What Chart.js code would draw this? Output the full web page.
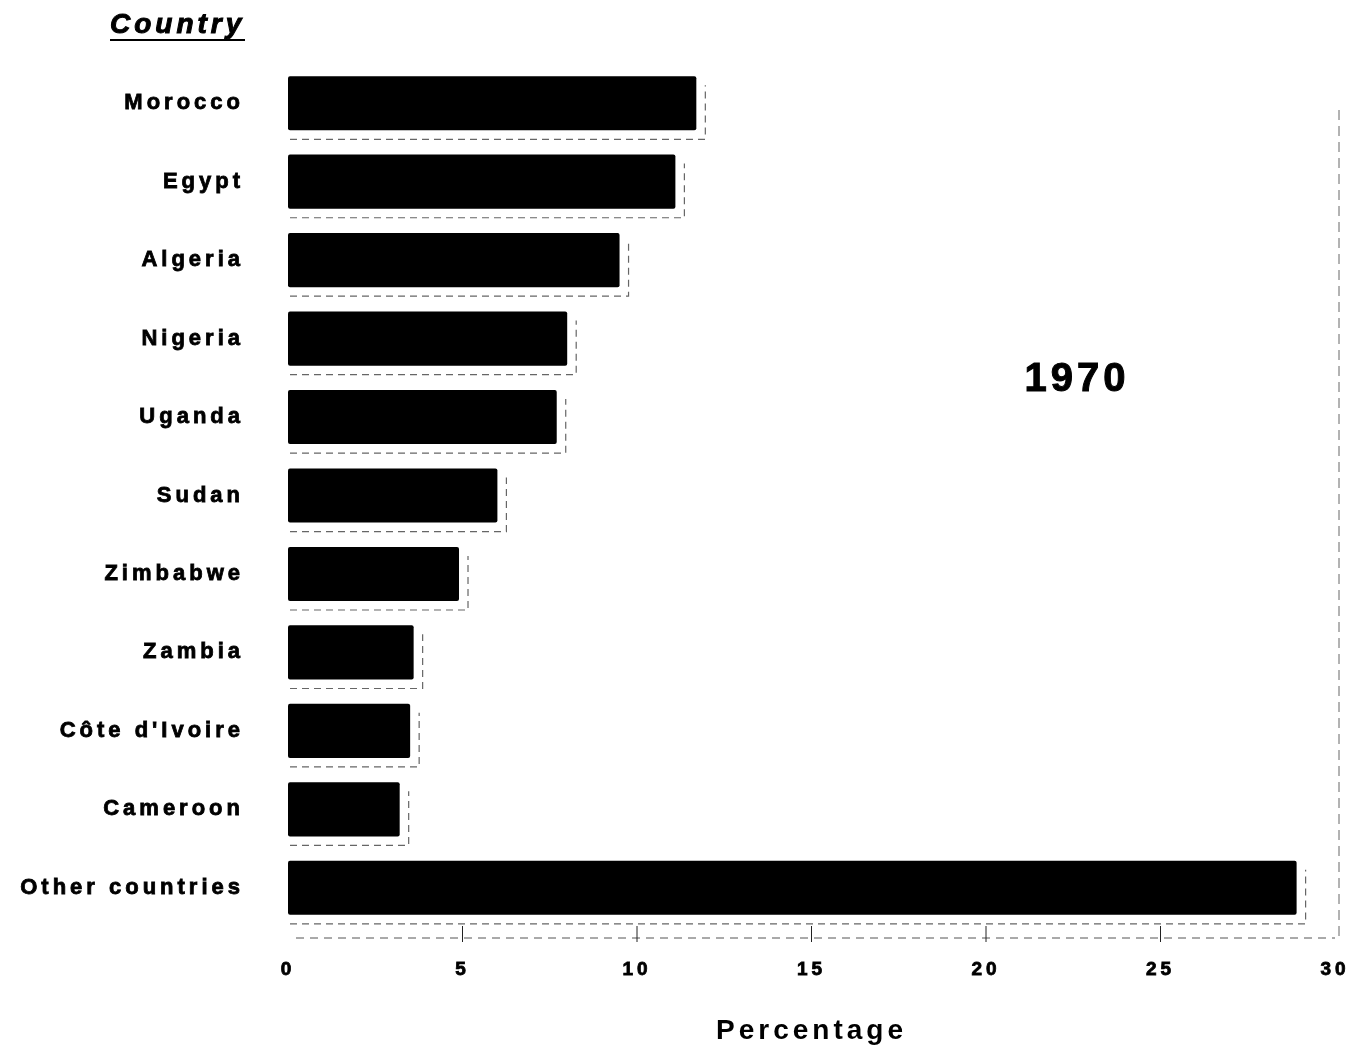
<!DOCTYPE html>
<html>
<head>
<meta charset="utf-8">
<script src="https://cdn.jsdelivr.net/npm/chart.js@4"></script>
<style>
  html, body { margin: 0; padding: 0; background: #fff; overflow: hidden; }
  #wrap { width: 1357px; height: 1049px; position: relative; }
</style>
</head>
<body>
<div id="wrap"><canvas id="shareChart"></canvas></div>
<script>
const countries = [
  "Morocco", "Egypt", "Algeria", "Nigeria", "Uganda", "Sudan",
  "Zimbabwe", "Zambia", "Côte d'Ivoire", "Cameroon", "Other countries"
];
const percentages = [11.7, 11.1, 9.5, 8.0, 7.7, 6.0, 4.9, 3.6, 3.5, 3.2, 28.9];
const xTicks = [0, 5, 10, 15, 20, 25, 30];
const yearLabel = "1970";

const FONT = "'Liberation Sans', Arial, Helvetica, sans-serif";

// heavy text like the scanned original
function boldText(ctx, text, x, y, spacing) {
  ctx.letterSpacing = spacing;
  ctx.lineWidth = 1;
  ctx.strokeStyle = "#000";
  ctx.fillText(text, x, y);
  ctx.strokeText(text, x, y);
}

// shadow boxes, dashed axis, year and "Country" heading
const decor = {
  id: "decor",
  beforeDraw(chart) {
    chart.ctx.letterSpacing = "4px";
  },
  beforeDatasetsDraw(chart) {
    const ctx = chart.ctx;
    const meta = chart.getDatasetMeta(0);
    ctx.save();
    ctx.setLineDash([7, 5]);
    ctx.strokeStyle = "#666";
    ctx.lineWidth = 1.2;
    meta.data.forEach((bar) => {
      const p = bar.getProps(["x", "y", "base", "height"], true);
      const top = p.y - p.height / 2;
      const bottom = p.y + p.height / 2;
      ctx.beginPath();
      ctx.moveTo(p.base + 2, bottom + 9);
      ctx.lineTo(p.x + 9, bottom + 9);
      ctx.lineTo(p.x + 9, top + 9);
      ctx.stroke();
    });
    ctx.restore();
  },
  afterDraw(chart) {
    const ctx = chart.ctx;
    const area = chart.chartArea;
    const xs = chart.scales.x;
    ctx.save();

    // dashed base line with tick marks
    const axisY = area.bottom + 11;
    ctx.strokeStyle = "#555";
    ctx.lineWidth = 1;
    ctx.setLineDash([8, 6]);
    ctx.beginPath();
    ctx.moveTo(area.left + 8, axisY);
    ctx.lineTo(area.right, axisY);
    ctx.stroke();
    ctx.setLineDash([]);
    ctx.strokeStyle = "#222";
    xTicks.slice(1, -1).forEach((v) => {
      const px = xs.getPixelForValue(v);
      ctx.beginPath();
      ctx.moveTo(px, axisY - 12);
      ctx.lineTo(px, axisY + 4);
      ctx.stroke();
    });

    // right frame line
    ctx.strokeStyle = "#666";
    ctx.setLineDash([10, 6]);
    ctx.beginPath();
    ctx.moveTo(area.right + 4, area.top + 46);
    ctx.lineTo(area.right + 4, axisY + 2);
    ctx.stroke();
    ctx.setLineDash([]);

    // year
    ctx.fillStyle = "#000";
    ctx.font = "bold 40px " + FONT;
    ctx.textAlign = "center";
    ctx.textBaseline = "middle";
    boldText(ctx, yearLabel, 1077, 380, "4px");

    // heading
    ctx.font = "italic bold 28px " + FONT;
    ctx.textAlign = "left";
    ctx.textBaseline = "alphabetic";
    boldText(ctx, "Country", 110, 33, "4px");
    ctx.lineWidth = 2;
    ctx.beginPath();
    ctx.moveTo(110, 40);
    ctx.lineTo(245, 40);
    ctx.stroke();

    ctx.restore();
  }
};

new Chart(document.getElementById("shareChart"), {
  type: "bar",
  data: {
    labels: countries,
    datasets: [
      {
        label: yearLabel,
        data: percentages,
        backgroundColor: "#000",
        borderWidth: 0,
        borderSkipped: false,
        borderRadius: 2,
        categoryPercentage: 1,
        barPercentage: 0.69
      }
    ]
  },
  options: {
    indexAxis: "y",
    responsive: true,
    maintainAspectRatio: false,
    animation: false,
    layout: { padding: { top: 64, right: 22, left: 0, bottom: 0 } },
    plugins: {
      legend: { display: false },
      tooltip: { enabled: false }
    },
    scales: {
      x: {
        min: 0,
        max: 30,
        afterBuildTicks: (scale) => {
          scale.ticks = xTicks.map((v) => ({ value: v }));
        },
        afterFit: (scale) => {
          scale.height = 122;
          scale.paddingLeft = 0;
          scale.paddingRight = 0;
        },
        grid: { display: false, drawTicks: false },
        border: { display: false },
        ticks: {
          color: "#000",
          padding: 31,
          textStrokeWidth: 0.8,
          textStrokeColor: "#000",
          font: { family: FONT, size: 19, weight: "bold" }
        },
        title: {
          display: true,
          text: "Percentage",
          color: "#000",
          padding: { top: 0, bottom: 1 },
          font: { family: FONT, size: 28, weight: "bold" }
        }
      },
      y: {
        afterFit: (scale) => {
          scale.width = 288;
        },
        grid: { display: false, drawTicks: false },
        border: { display: false },
        ticks: {
          color: "#000",
          padding: 44,
          textStrokeWidth: 0.8,
          textStrokeColor: "#000",
          font: { family: FONT, size: 22, weight: "bold" }
        }
      }
    }
  },
  plugins: [decor]
});
</script>
</body>
</html>
